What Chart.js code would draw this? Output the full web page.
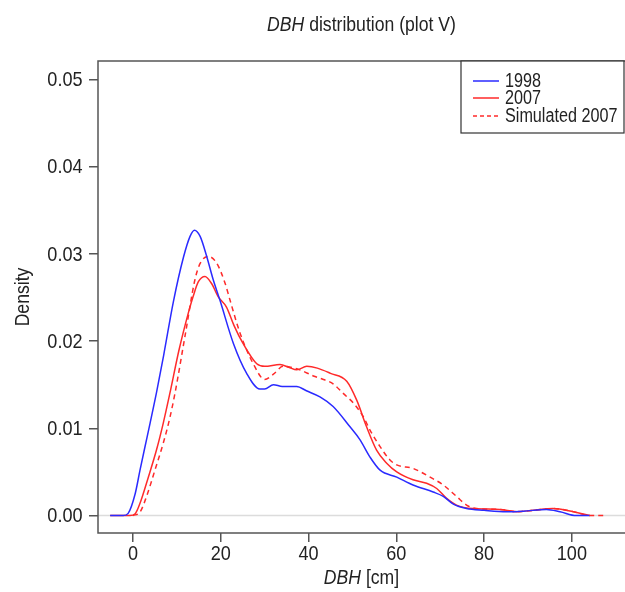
<!DOCTYPE html>
<html>
<head>
<meta charset="utf-8">
<script src="https://cdn.jsdelivr.net/npm/chart.js@4/dist/chart.umd.min.js"></script>
<style>
  html, body { margin: 0; padding: 0; background: #fff; }
  #wrap { width: 625px; height: 592px; }
</style>
</head>
<body>
<div id="wrap"><canvas id="dbhChart" width="625" height="592"></canvas></div>
<script>
// tick labels
var xTicks = [0, 20, 40, 60, 80, 100];
var yTicks = [0, 0.01, 0.02, 0.03, 0.04, 0.05];

// series names
var seriesNames = ["1998", "2007", "Simulated 2007"];

// 1998 density curve
var dbh1998 = [-5.2, -2.2, -1.1, 0.5, 1.6, 2.7, 3.9, 5.4, 7, 9.2, 11.5, 13, 14, 15.3, 16.8, 18.3, 19.8, 22.9, 25.9, 28.9, 30, 32, 34, 37.3, 39.5, 42.6, 45.6, 49.4, 51.7, 54, 56.3, 60.1, 63.8, 68.4, 70.7, 73, 76, 80, 85.1, 88.9, 94.2, 97.3, 101, 104];
var dens1998 = [0, 0, 0.00025, 0.0025, 0.0052, 0.0078, 0.0106, 0.0142, 0.0184, 0.0245, 0.0296, 0.0320, 0.0327, 0.032, 0.0297, 0.027, 0.0247, 0.0197, 0.0163, 0.0145, 0.0145, 0.0150, 0.0148, 0.0148, 0.0143, 0.0136, 0.0125, 0.0102, 0.0087, 0.0067, 0.0052, 0.0044, 0.0035, 0.0027, 0.0022, 0.0013, 0.0008, 0.0006, 0.00044, 0.0005, 0.0007, 0.00044, 0, 0];

// 2007 density curve
var dbh2007 = [-5.2, -0.7, 0.5, 1.6, 3.5, 5.4, 6.9, 8.4, 10.5, 12.6, 13.7, 14.9, 16.4, 17.9, 19.4, 21.3, 23, 25.1, 28.2, 30, 33.5, 35.5, 37.3, 39.6, 42, 45, 48.7, 51, 53.2, 55.5, 57.8, 60.1, 63.8, 66.9, 69.2, 71.4, 73.7, 77.5, 83.6, 87.4, 91.2, 95.7, 100.3, 104.1];
var dens2007 = [0, 0, 0.0002, 0.0014, 0.0044, 0.0076, 0.0106, 0.0140, 0.019, 0.0232, 0.0251, 0.0268, 0.0274, 0.0266, 0.0251, 0.0239, 0.0218, 0.0197, 0.0174, 0.0171, 0.0173, 0.0170, 0.0167, 0.0171, 0.0169, 0.0163, 0.0154, 0.0132, 0.0102, 0.0075, 0.006, 0.005, 0.0041, 0.0037, 0.0031, 0.002, 0.0012, 0.0008, 0.0007, 0.00044, 0.0006, 0.0008, 0.00044, 0];

// simulated 2007 density curve
var dbhSim = [0, 1.6, 3.1, 5, 6.9, 8.4, 9.6, 12, 14.1, 15.3, 17.2, 19.1, 21, 22.1, 24.4, 27.4, 30, 32, 34.2, 38, 41.1, 43.4, 45.6, 47.9, 50.2, 52.5, 54, 56.3, 58.5, 60.1, 63.8, 67.7, 70.7, 73.7, 76, 78.3, 83.6, 87.4, 91.2, 95.7, 100.3, 104.1, 107.5];
var densSim = [0, 0.0004, 0.0022, 0.0052, 0.0083, 0.0112, 0.0141, 0.0210, 0.027, 0.0289, 0.0297, 0.0289, 0.0266, 0.0247, 0.0209, 0.0174, 0.0156, 0.0162, 0.0171, 0.0167, 0.0160, 0.0156, 0.0151, 0.014, 0.0129, 0.0113, 0.0098, 0.0079, 0.0064, 0.0058, 0.0054, 0.0044, 0.0035, 0.0022, 0.0012, 0.0008, 0.0007, 0.00045, 0.0006, 0.0008, 0.00045, 0, 0];

// no narrow font installed: squeeze Liberation Sans horizontally
var FONT = "'Liberation Sans', Arial, sans-serif";
var SQUEEZE = 0.86;
var BLUE = "#2a2aff";
var RED = "#ff2a2a";
var AXIS = "#555555";
var TEXT = "#222222";

function toPoints(xs, ys) {
    var pts = [];
    for (var i = 0; i < xs.length; i++) {
        pts.push({ x: xs[i], y: ys[i] });
    }
    return pts;
}

// text squeezed around its anchor point
function squeezedText(ctx, str, x, y, align, font, sx) {
    ctx.save();
    ctx.translate(x, y);
    ctx.scale(sx || SQUEEZE, 1);
    ctx.font = font;
    ctx.fillStyle = TEXT;
    ctx.textAlign = align;
    ctx.textBaseline = "middle";
    ctx.fillText(str, 0, 0);
    ctx.restore();
}

// centred text with italic parts
function drawMixed(ctx, parts, cx, cy, size, sx) {
    var total = 0, i;
    for (i = 0; i < parts.length; i++) {
        ctx.font = (parts[i][1] ? "italic " : "") + size + "px " + FONT;
        total += ctx.measureText(parts[i][0]).width;
    }
    ctx.save();
    ctx.translate(cx, cy);
    ctx.scale(sx, 1);
    var x = -total / 2;
    ctx.fillStyle = TEXT;
    ctx.textAlign = "left";
    ctx.textBaseline = "middle";
    for (i = 0; i < parts.length; i++) {
        ctx.font = (parts[i][1] ? "italic " : "") + size + "px " + FONT;
        ctx.fillText(parts[i][0], x, 0);
        x += ctx.measureText(parts[i][0]).width;
    }
    ctx.restore();
}

// box, zero line, tick labels, legend and titles
var decorPlugin = {
    id: "decor",
    beforeDatasetsDraw: function (chart) {
        var ctx = chart.ctx, a = chart.chartArea;
        var y0 = chart.scales.y.getPixelForValue(0);
        ctx.save();
        ctx.strokeStyle = "#dcdcdc";
        ctx.lineWidth = 1.5;
        ctx.beginPath();
        ctx.moveTo(a.left, y0);
        ctx.lineTo(a.right, y0);
        ctx.stroke();
        ctx.restore();
    },
    afterDraw: function (chart) {
        var ctx = chart.ctx, a = chart.chartArea;
        var xs = chart.scales.x, ys = chart.scales.y;
        var i;
        ctx.save();
        ctx.strokeStyle = AXIS;
        ctx.lineWidth = 1.5;
        ctx.strokeRect(a.left, a.top, a.right - a.left + 2, a.bottom - a.top);

        // tick labels
        for (i = 0; i < yTicks.length; i++) {
            squeezedText(ctx, yTicks[i].toFixed(2), 82.5, ys.getPixelForValue(yTicks[i]) + 1, "right", "21px " + FONT);
        }
        for (i = 0; i < xTicks.length; i++) {
            squeezedText(ctx, String(xTicks[i]), xs.getPixelForValue(xTicks[i]), 554, "center", "21px " + FONT);
        }

        // legend
        var lx = 461, ly = a.top, lw = 163, lh = 72;
        ctx.fillStyle = "#fff";
        ctx.fillRect(lx, ly, lw, lh);
        ctx.strokeStyle = "#333";
        ctx.lineWidth = 1.2;
        ctx.strokeRect(lx, ly, lw, lh);
        var rows = [81, 98, 116];
        var cols = [BLUE, RED, RED];
        var dashes = [[], [], [4, 3]];
        for (i = 0; i < seriesNames.length; i++) {
            ctx.strokeStyle = cols[i];
            ctx.lineWidth = 1.5;
            ctx.setLineDash(dashes[i]);
            ctx.beginPath();
            ctx.moveTo(473, rows[i]);
            ctx.lineTo(499, rows[i]);
            ctx.stroke();
            ctx.setLineDash([]);
            squeezedText(ctx, seriesNames[i], 505, rows[i] + 1, "left", "19.5px " + FONT, 0.83);
        }

        // main title and x axis title, "DBH" in italics
        drawMixed(ctx, [["DBH", true], [" distribution (plot V)", false]], (a.left + a.right) / 2, 25, 20, 0.88);
        drawMixed(ctx, [["DBH", true], [" [cm]", false]], (a.left + a.right) / 2, 578, 20, 0.88);

        // y axis title
        ctx.save();
        ctx.translate(23, (a.top + a.bottom) / 2);
        ctx.rotate(-Math.PI / 2);
        ctx.scale(0.88, 1);
        ctx.font = "20px " + FONT;
        ctx.fillStyle = TEXT;
        ctx.textAlign = "center";
        ctx.textBaseline = "middle";
        ctx.fillText("Density", 0, 0);
        ctx.restore();
        ctx.restore();
    }
};

var lineDefaults = {
    fill: false,
    pointRadius: 0,
    borderWidth: 1.5,
    cubicInterpolationMode: "monotone"
};

new Chart(document.getElementById("dbhChart"), {
    type: "line",
    data: {
        datasets: [
            Object.assign({ label: seriesNames[0], data: toPoints(dbh1998, dens1998), borderColor: BLUE }, lineDefaults),
            Object.assign({ label: seriesNames[1], data: toPoints(dbh2007, dens2007), borderColor: RED }, lineDefaults),
            Object.assign({ label: seriesNames[2], data: toPoints(dbhSim, densSim), borderColor: RED, borderDash: [5, 4] }, lineDefaults)
        ]
    },
    options: {
        responsive: false,
        animation: false,
        layout: { padding: { top: 61, right: 0, left: 0, bottom: 0 } },
        plugins: {
            legend: { display: false },
            tooltip: { enabled: false }
        },
        scales: {
            x: {
                type: "linear",
                min: -7.97,
                max: 112.1,
                afterFit: function (s) { s.height = 59; },
                afterBuildTicks: function (s) { s.ticks = xTicks.map(function (v) { return { value: v }; }); },
                grid: { drawOnChartArea: false, drawTicks: true, tickLength: 9, color: AXIS, lineWidth: 1.5 },
                border: { display: false },
                ticks: { display: false }
            },
            y: {
                min: -0.002,
                max: 0.0521,
                afterFit: function (s) { s.width = 98; },
                afterBuildTicks: function (s) { s.ticks = yTicks.map(function (v) { return { value: v }; }); },
                grid: { drawOnChartArea: false, drawTicks: true, tickLength: 9, color: AXIS, lineWidth: 1.5 },
                border: { display: false },
                ticks: { display: false }
            }
        }
    },
    plugins: [decorPlugin]
});
</script>
</body>
</html>
